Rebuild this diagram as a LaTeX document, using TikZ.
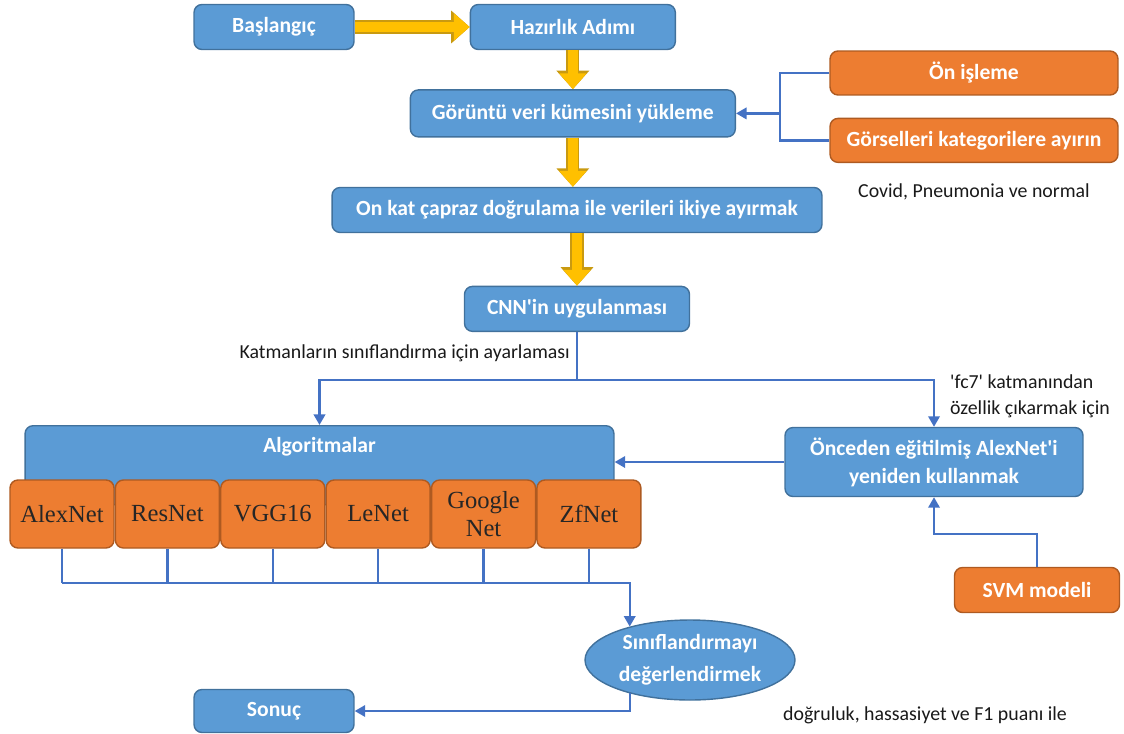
\documentclass[tikz,border=0pt]{standalone}
\usepackage{fontspec}
\setmainfont{Carlito}
\newfontfamily\netfont{Liberation Serif}
\usetikzlibrary{positioning, arrows.meta, shapes.geometric}

\definecolor{boxBlue}{HTML}{5B9BD5}
\definecolor{boxBlueEdge}{HTML}{41719C}
\definecolor{boxOrange}{HTML}{ED7D31}
\definecolor{boxOrangeEdge}{HTML}{AE5A21}
\definecolor{flowYellow}{HTML}{FFC000}
\definecolor{flowYellowEdge}{HTML}{C99A10}
\definecolor{linkBlue}{HTML}{4472C4}

\begin{document}
\begin{tikzpicture}[
        x=0.02cm, y=-0.02cm,
        node distance=1cm and 2cm,
        blueNode/.style={draw=boxBlueEdge, fill=boxBlue, rounded corners=0.16cm, minimum height=0.9cm, align=center, text=white, font=\fontsize{12.3}{14}\selectfont\bfseries, line width=0.8pt},
        orangeNode/.style={blueNode, draw=boxOrangeEdge, fill=boxOrange},
        netNode/.style={draw=boxOrangeEdge, fill=boxOrange, rounded corners=0.16cm, minimum width=2.08cm, minimum height=1.36cm, inner sep=1pt, align=center, text=black!85, font=\netfont\fontsize{14}{15.5}\selectfont, line width=0.8pt},
        evalNode/.style={ellipse, draw=boxBlueEdge, fill=boxBlue, minimum width=4.2cm, minimum height=1.6cm, inner sep=0pt, align=center, text=white, font=\fontsize{12.3}{14}\selectfont\bfseries, line width=0.8pt},
        noteText/.style={font=\fontsize{11.3}{15}\selectfont, text=black!90, align=left},
        yarrow/.style={draw=flowYellow, line width=6pt, -{Triangle[length=9pt, width=15pt]}, preaction={draw=flowYellowEdge, line width=7.5pt, -{Triangle[length=10.5pt, width=18pt]}}},
        wire/.style={draw=linkBlue, line width=1.3pt},
        arrow/.style={wire, -{Triangle[length=6pt, width=6.5pt]}}
    ]
        \useasboundingbox (0,0) rectangle (1124,733);

        % Nodes
        \node[blueNode, minimum width=3.2cm] (start) at (274,27) {Başlangıç};
        \node[blueNode, minimum width=4.1cm, right=2.3cm of start] (prep) {Hazırlık Adımı};
        \node[blueNode, minimum width=6.5cm, minimum height=0.94cm, below=0.78cm of prep] (load) {Görüntü veri kümesini yükleme};

        \node[orangeNode, minimum width=5.76cm, minimum height=0.88cm] (pre) at (974,73) {Ön işleme};
        \node[orangeNode, minimum width=5.76cm, minimum height=0.88cm, below=0.44cm of pre] (cat) {Görselleri kategorilere ayırın};
        \node[noteText, below=0.28cm of cat] (classNote) {Covid, Pneumonia ve normal};

        \node[blueNode, minimum width=9.8cm] (split) at (577,210) {On kat çapraz doğrulama ile verileri ikiye ayırmak};
        \node[blueNode, minimum width=4.5cm, below=1.05cm of split] (cnn) {CNN\textquotesingle in uygulanması};
        \node[noteText, anchor=east] (tuneNote) at (576,353) {Katmanların sınıflandırma için ayarlaması};
        \node[noteText, anchor=west] (fcNote) at (944,396) {\textquotesingle fc7\textquotesingle{} katmanından\\özellik çıkarmak için};

        % Algorithms block with the six nets on its lower edge
        \node[blueNode, anchor=north, minimum width=11.78cm, minimum height=0pt, inner ysep=0.14cm, text height=0.4cm, text depth=0.9cm] (algo) at (319.5,425) {Algoritmalar};
        \node[netNode] (alex) at (62,514) {AlexNet};
        \node[netNode, right=0pt of alex] (res) {ResNet};
        \node[netNode, right=0pt of res] (vgg) {VGG16};
        \node[netNode, right=0pt of vgg] (le) {LeNet};
        \node[netNode, right=0pt of le] (goog) {Google\\Net};
        \node[netNode, right=0pt of goog] (zf) {ZfNet};

        \node[blueNode, minimum width=5.96cm, minimum height=1.38cm] (reuse) at (934,462) {Önceden eğitilmiş AlexNet\textquotesingle i\\[2pt]yeniden kullanmak};
        \node[orangeNode, minimum width=3.3cm] (svm) at (1037,590) {SVM modeli};

        \node[evalNode] (eval) at (690,660) {Sınıflandırmayı\\[4pt]değerlendirmek};
        \node[blueNode, minimum width=3.2cm, minimum height=0.86cm] (result) at (start |- 0,711) {Sonuç};
        \node[noteText] (metricNote) at (925,715) {doğruluk, hassasiyet ve F1 puanı ile};

        % Arrows
        \draw[yarrow] (start) -- (prep);
        \draw[yarrow] (prep) -- (load);
        \draw[yarrow] (load) -- (load |- split.north);
        \draw[yarrow] (split.south -| cnn) -- (cnn);

        \draw[wire] (pre.west) -- ++(-49,0) coordinate (pick) |- (cat.west);
        \draw[arrow] (pick |- load.east) -- (load.east);

        \draw[wire] (cnn.south) -- ++(0,48) coordinate (fork);
        \draw[arrow] (fork) -| (algo.north);
        \draw[arrow] (fork) -| (reuse.north);

        \draw[arrow] (reuse.west) -- (reuse.west -| algo.east);
        \draw[arrow] (svm.north) -- ++(0,-33) -| (reuse.south);

        \coordinate (bus) at (0,583);
        \foreach \net in {alex, res, vgg, le, goog, zf}
            \draw[wire] (\net.south) -- (\net.south |- bus);
        \draw[arrow] (alex.south |- bus) -| (eval.151);
        \draw[arrow] (eval.209) |- (result.east);
    \end{tikzpicture}
\end{document}
